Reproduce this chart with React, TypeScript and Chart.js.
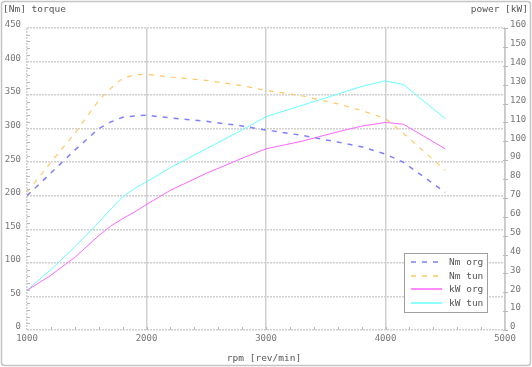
import React, { useEffect, useRef } from 'react';
import { Chart, registerables } from 'chart.js';

Chart.register(...registerables);

const rpm = [1000, 1200, 1400, 1600, 1700, 1800, 1900, 2000, 2200, 2500, 2800, 3000, 3300, 3600, 3800, 4000, 4150, 4500];
const nmOrg = [200, 234, 268, 300, 310, 317, 319, 320, 316, 311, 304, 298, 290, 280, 273, 262, 250, 205];
const nmTun = [205, 250, 293, 342, 360, 375, 380, 381, 377, 372, 364, 357, 349, 337, 327, 315, 293, 238];
const kwOrg = [21, 29, 38.5, 50, 55, 59, 62.5, 66.5, 74, 83, 91, 96, 100, 105, 108, 110, 109, 96];
const kwTun = [21, 32, 44, 57, 64, 70.5, 75, 78.5, 86, 96, 106, 113, 119, 125, 129, 132, 130, 112];

const seriesNames = ['Nm org', 'Nm tun', 'kW org', 'kW tun'];
const seriesColors = ['#7f7fff', '#ffc864', '#ff66ff', '#66ffff'];
const seriesDash = [[5, 6], [5, 6], [], []];

const titleLeft = '[Nm] torque';
const titleRight = 'power [kW]';
const titleBottom = 'rpm [rev/min]';

const FONT = '"DejaVu Sans Mono", monospace';

const toPts = (ys: number[]) => ys.map((y, i) => ({ x: rpm[i], y }));

const decorPlugin = {
  id: 'decor',
  beforeDraw(chart: any) {
    const ctx = chart.ctx;
    ctx.save();
    ctx.fillStyle = '#ffffff';
    ctx.fillRect(0, 0, chart.width, chart.height);
    ctx.strokeStyle = '#c4c4c4';
    ctx.lineWidth = 1.5;
    ctx.beginPath();
    if (ctx.roundRect) ctx.roundRect(1.5, 1.5, chart.width - 3, chart.height - 3, 3);
    else ctx.rect(1.5, 1.5, chart.width - 3, chart.height - 3);
    ctx.stroke();
    ctx.restore();
  },
  afterDraw(chart: any) {
    const ctx = chart.ctx;
    const ca = chart.chartArea;
    const x = chart.scales.x;
    const y = chart.scales.y;
    const y1 = chart.scales.y1;
    ctx.save();
    // right axis line
    ctx.strokeStyle = '#c8c8c8';
    ctx.lineWidth = 1.5;
    ctx.beginPath();
    ctx.moveTo(ca.right, ca.top);
    ctx.lineTo(ca.right, ca.bottom);
    ctx.stroke();
    // minor ticks
    ctx.strokeStyle = '#b8b8b8';
    ctx.lineWidth = 1;
    ctx.beginPath();
    for (let v = 1200; v < 5000; v += 200) {
      const px = Math.round(x.getPixelForValue(v)) + 0.5;
      ctx.moveTo(px, ca.bottom);
      ctx.lineTo(px, ca.bottom - 3);
    }
    for (let v = 10; v < 450; v += 10) {
      if (v % 50 === 0) continue;
      const py = Math.round(y.getPixelForValue(v)) + 0.5;
      ctx.moveTo(ca.left, py);
      ctx.lineTo(ca.left + 3, py);
    }
    for (let v = 0; v <= 160; v += 10) {
      const py = Math.round(y1.getPixelForValue(v)) + 0.5;
      ctx.moveTo(ca.right - 2, py);
      ctx.lineTo(ca.right + 3, py);
    }
    ctx.stroke();

    // titles
    ctx.fillStyle = '#555555';
    ctx.font = '9.5px ' + FONT;
    ctx.textBaseline = 'middle';
    ctx.textAlign = 'left';
    ctx.fillText(titleLeft, 3, 10);
    ctx.textAlign = 'right';
    ctx.fillText(titleRight, 528, 10);
    ctx.textAlign = 'center';
    ctx.fillText(titleBottom, 264, 359);

    // legend
    const lx = 404, ly = 253, lw = 83, lh = 59;
    ctx.fillStyle = '#ffffff';
    ctx.fillRect(lx, ly, lw, lh);
    ctx.strokeStyle = '#a0a0a0';
    ctx.lineWidth = 1;
    ctx.strokeRect(lx + 0.5, ly + 0.5, lw, lh);
    const rows = [262, 276, 289, 303];
    seriesNames.forEach((name, i) => {
      const ry = rows[i];
      ctx.strokeStyle = seriesColors[i];
      ctx.lineWidth = 1.5;
      ctx.setLineDash(seriesDash[i]);
      ctx.beginPath();
      ctx.moveTo(411, ry);
      ctx.lineTo(442, ry);
      ctx.stroke();
      ctx.setLineDash([]);
      ctx.fillStyle = '#555555';
      ctx.textAlign = 'left';
      ctx.fillText(name, 449, ry + 0.5);
    });
    ctx.restore();
  },
};

export default function App() {
  const ref = useRef<HTMLCanvasElement | null>(null);
  useEffect(() => {
    if (!ref.current) return;
    const tickFont = { family: FONT, size: 9 };
    const chart = new Chart(ref.current, {
      type: 'line',
      data: {
        datasets: [
          { label: seriesNames[0], data: toPts(nmOrg), yAxisID: 'y', borderColor: seriesColors[0], borderWidth: 1.5, borderDash: seriesDash[0], pointRadius: 0, fill: false, tension: 0 },
          { label: seriesNames[1], data: toPts(nmTun), yAxisID: 'y', borderColor: seriesColors[1], borderWidth: 1.2, borderDash: seriesDash[1], pointRadius: 0, fill: false, tension: 0 },
          { label: seriesNames[2], data: toPts(kwOrg), yAxisID: 'y1', borderColor: seriesColors[2], borderWidth: 1, pointRadius: 0, fill: false, tension: 0 },
          { label: seriesNames[3], data: toPts(kwTun), yAxisID: 'y1', borderColor: seriesColors[3], borderWidth: 1, pointRadius: 0, fill: false, tension: 0 },
        ],
      },
      options: {
        responsive: false,
        animation: false,
        layout: { padding: { top: 28, left: 0, right: 0, bottom: 0 } },
        plugins: { legend: { display: false }, tooltip: { enabled: false }, title: { display: false } },
        scales: {
          x: {
            type: 'linear',
            min: 1000,
            max: 5000,
            ticks: { stepSize: 1000, font: tickFont, color: '#777777', padding: 3, maxRotation: 0, autoSkip: false, callback: (v: any) => String(v) },
            grid: { color: '#d0d0d0', lineWidth: 1.5, drawTicks: false },
            border: { display: false, dash: (c: any) => (c.tick && c.tick.value === 1000 ? [2, 1] : []) },
            afterFit: (s: any) => { s.height = 37; },
          },
          y: {
            position: 'left',
            min: 0,
            max: 450,
            ticks: { stepSize: 50, font: tickFont, color: '#777777', padding: 6, labelOffset: -3, callback: (v: any) => String(v) },
            grid: { color: '#d0d0d0', lineWidth: 1.5, drawTicks: false },
            border: { display: false, dash: [2, 1] },
            afterFit: (s: any) => { s.width = 27; },
          },
          y1: {
            position: 'right',
            min: 0,
            max: 160,
            ticks: { stepSize: 10, font: tickFont, color: '#777777', padding: 5, labelOffset: -3, callback: (v: any) => String(v) },
            grid: { display: false, drawTicks: false },
            border: { display: false },
            afterFit: (s: any) => { s.width = 27; },
          },
        },
      },
      plugins: [decorPlugin],
    } as any);
    return () => chart.destroy();
  }, []);
  return (
    <div style={{ position: 'absolute', left: 0, top: 0, width: 532, height: 367 }}>
      <canvas ref={ref} width={532} height={367} style={{ display: 'block', width: 532, height: 367 }} />
    </div>
  );
}
